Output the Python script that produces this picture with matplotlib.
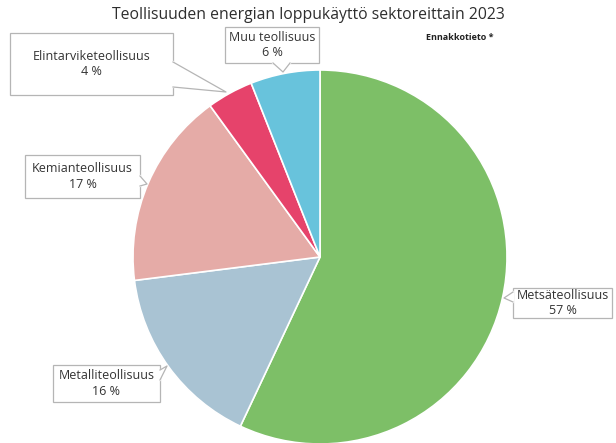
import matplotlib.pyplot as plt
from matplotlib.patches import Rectangle, Polygon

plt.rcParams['font.family'] = ['Open Sans', 'DejaVu Sans']

sectors = ['Metsäteollisuus', 'Metalliteollisuus', 'Kemianteollisuus',
           'Elintarviketeollisuus', 'Muu teollisuus']
shares = [57, 16, 17, 4, 6]
colors = ['#7dbf67', '#a9c3d3', '#e5aba7', '#e6436b', '#68c3dc']

# callout boxes (x0, y0, x1, y1) in pixels from top-left, wedge base points and tip
boxes = [(513, 288, 612, 318), (53, 365, 160, 402), (25, 155, 140, 198),
         (10, 33, 173, 95), (225, 27, 319, 63)]
bases = [((513, 292), (513, 302)), ((160, 370), (160, 380)), ((140, 176), (140, 186)),
         ((173, 62), (173, 87)), ((273, 63), (290, 63))]
tips = [(504, 298), (167, 366), (147, 184), (226, 92), (283, 72)]

W, H = 616, 443
fig = plt.figure(figsize=(W / 100, H / 100), dpi=100)
ax = fig.add_axes([0, 0, 1, 1])

cx, cy, r = 320, H - 257, 187
ax.pie(shares, colors=colors, startangle=90, counterclock=False,
       center=(cx, cy), radius=r,
       wedgeprops=dict(edgecolor='white', linewidth=1.2))
ax.set_xlim(0, W)
ax.set_ylim(0, H)
ax.set_aspect('equal')
ax.axis('off')

ec = '#b5b5b5'
for name, s, (x0, y0, x1, y1), (b1, b2), tip in zip(sectors, shares, boxes, bases, tips):
    ax.add_patch(Rectangle((x0, H - y1), x1 - x0, y1 - y0, fc='white', ec=ec, lw=0.9, zorder=5))
    p1 = (b1[0], H - b1[1])
    p2 = (b2[0], H - b2[1])
    t = (tip[0], H - tip[1])
    ax.add_patch(Polygon([p1, t, p2], closed=True, fc='white', ec='none', zorder=6))
    ax.plot([p1[0], p2[0]], [p1[1], p2[1]], color='white', lw=1.6, zorder=6.5)
    ax.plot([p1[0], t[0], p2[0]], [p1[1], t[1], p2[1]], color=ec, lw=0.9, zorder=7)
    ax.text((x0 + x1) / 2, H - (y0 + y1) / 2, f'{name}\n{s} %',
            ha='center', va='center', fontsize=9, color='#333333',
            fontweight='medium', linespacing=1.25, zorder=8)

ax.text(308, H - 15, 'Teollisuuden energian loppukäyttö sektoreittain 2023',
        ha='center', va='center', fontsize=11.3, color='#2e2e2e', fontweight='medium')
ax.text(460, H - 37, 'Ennakkotieto *', ha='center', va='center',
        fontsize=6.5, fontweight='bold', color='#222222')

fig.savefig('out.png', dpi=100)
